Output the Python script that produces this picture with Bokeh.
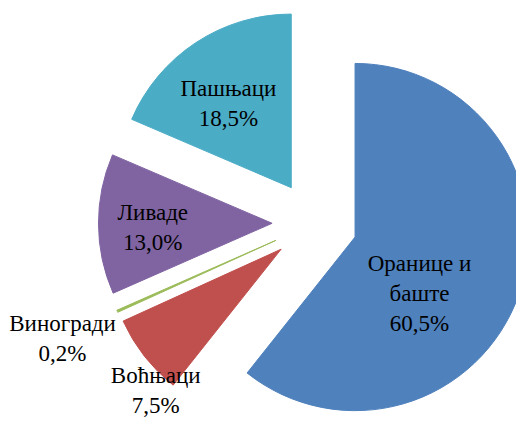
import math
from bokeh.plotting import figure
from bokeh.models import Range1d, ColumnDataSource
from bokeh.core.properties import value
from bokeh.embed import file_html
from bokeh.resources import INLINE

# data
categories = ["Оранице и баште", "Воћњаци", "Виногради", "Ливаде", "Пашњаци"]
shares = [60.5, 7.5, 0.2, 13.0, 18.5]
label_texts = ["Оранице и\nбаште\n60,5%", "Воћњаци\n7,5%", "Виногради\n0,2%", "Ливаде\n13,0%", "Пашњаци\n18,5%"]
colors = ["#4F81BD", "#C0504D", "#9BBB59", "#8064A2", "#4BACC6"]

# layout (reference-pixel coordinates; data y = H - screen y)
W, H = 532, 439
CX, CY = 324, H - 231
RADIUS = 179
EXPLODE = 44
label_x = [432, 160, 64, 157, 235]
label_y = [H - 304, H - 405, H - 351, H - 236, H - 107]

total = sum(shares)
xs, ys, starts, ends = [], [], [], []
cum = 0.0
for s in shares:
    f0 = cum / total
    cum += s
    f1 = cum / total
    a_start = math.pi / 2 - 2 * math.pi * f1
    a_end = math.pi / 2 - 2 * math.pi * f0
    mid = (a_start + a_end) / 2
    xs.append(CX + EXPLODE * math.cos(mid))
    ys.append(CY + EXPLODE * math.sin(mid))
    starts.append(a_start)
    ends.append(a_end)

src = ColumnDataSource(dict(x=xs, y=ys, start=starts, end=ends, color=colors, cat=categories))

p = figure(width=516, height=423, output_backend="svg", toolbar_location=None,
           x_range=Range1d(0, W), y_range=Range1d(0, H), min_border=0)
p.axis.visible = False
p.grid.visible = False
p.outline_line_color = None
p.background_fill_color = "white"
p.border_fill_color = "white"

p.wedge(x="x", y="y", radius=RADIUS, start_angle="start", end_angle="end",
        direction="anticlock", fill_color="color", line_color="color", line_width=1, source=src)

lsrc = ColumnDataSource(dict(x=label_x, y=label_y, t=label_texts))
p.text(x="x", y="y", text="t", source=lsrc, text_font=value("Liberation Serif"),
       text_font_size="23px", text_color="black", text_align="center",
       text_baseline="middle", text_line_height=1.2)

open("out.html", "w").write(file_html(p, INLINE))
